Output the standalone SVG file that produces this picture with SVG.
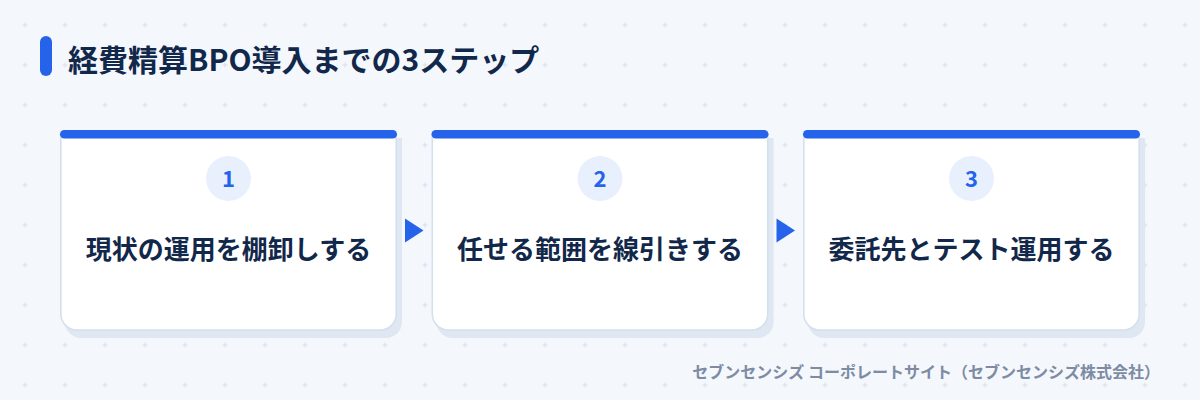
<svg xmlns="http://www.w3.org/2000/svg" width="1200" height="400" viewBox="0 0 1200 400">
  <defs>
    <pattern id="grid" x="5" y="5" width="40" height="40" patternUnits="userSpaceOnUse">
      <path d="M17.5 20h5M20 17.5v5" stroke="#d7dfeb" stroke-width="1"/>
    </pattern>
    <style>
      .t { font-family: "Noto Sans CJK JP", "Noto Sans", sans-serif; font-weight: 700; }
      .title { font-size: 30px; fill: #12284a; }
      .label { font-size: 26px; fill: #12284a; text-anchor: middle; }
      .num { font-size: 22px; fill: #2563eb; text-anchor: middle; }
      .foot { font-size: 16px; fill: #7d8ba3; text-anchor: end; }
      .shadow { fill: #dfe7f2; }
      .card { fill: #ffffff; stroke: #d4e0ee; stroke-width: 1.6; }
      .bar { fill: #2563eb; }
      .badge { fill: #e8f0fd; }
      .arrow { fill: #2563eb; }
    </style>
  </defs>
  <rect width="1200" height="400" fill="#f4f7fc"/>
  <rect width="1200" height="400" fill="url(#grid)"/>

  <g id="title">
    <rect x="40" y="36" width="12" height="40" rx="6" fill="#2563eb"/>
    <text class="t title" x="68" y="71">経費精算BPO導入までの3ステップ</text>
  </g>

  <g id="step1">
    <path class="shadow" d="M65 138h337v184a16 16 0 0 1 -16 16h-305a16 16 0 0 1 -16 -16z"/>
    <path class="card" d="M60.8 134h335.4v180a16 16 0 0 1 -16 16h-303.4a16 16 0 0 1 -16 -16z"/>
    <rect class="bar" x="60" y="130" width="337" height="8.5" rx="4.25"/>
    <circle class="badge" cx="228.5" cy="178.5" r="22.5"/>
    <text class="t num" x="228.5" y="186.5">1</text>
    <text class="t label" x="228.5" y="259">現状の運用を棚卸しする</text>
  </g>

  <g id="step2">
    <path class="shadow" d="M436.5 138h337v184a16 16 0 0 1 -16 16h-305a16 16 0 0 1 -16 -16z"/>
    <path class="card" d="M432.3 134h335.4v180a16 16 0 0 1 -16 16h-303.4a16 16 0 0 1 -16 -16z"/>
    <rect class="bar" x="431.5" y="130" width="337" height="8.5" rx="4.25"/>
    <circle class="badge" cx="600" cy="178.5" r="22.5"/>
    <text class="t num" x="600" y="186.5">2</text>
    <text class="t label" x="600" y="259">任せる範囲を線引きする</text>
  </g>

  <g id="step3">
    <path class="shadow" d="M808 138h337v184a16 16 0 0 1 -16 16h-305a16 16 0 0 1 -16 -16z"/>
    <path class="card" d="M803.8 134h335.4v180a16 16 0 0 1 -16 16h-303.4a16 16 0 0 1 -16 -16z"/>
    <rect class="bar" x="803" y="130" width="337" height="8.5" rx="4.25"/>
    <circle class="badge" cx="971.5" cy="178.5" r="22.5"/>
    <text class="t num" x="971.5" y="186.5">3</text>
    <text class="t label" x="971.5" y="259">委託先とテスト運用する</text>
  </g>

  <g id="connectors">
    <polygon class="arrow" points="405,218.5 423.5,230.5 405,242.5"/>
    <polygon class="arrow" points="776.5,218.5 795,230.5 776.5,242.5"/>
  </g>

  <g id="footer">
    <text class="t foot" x="1160" y="378">セブンセンシズ コーポレートサイト（セブンセンシズ株式会社）</text>
  </g>
</svg>
